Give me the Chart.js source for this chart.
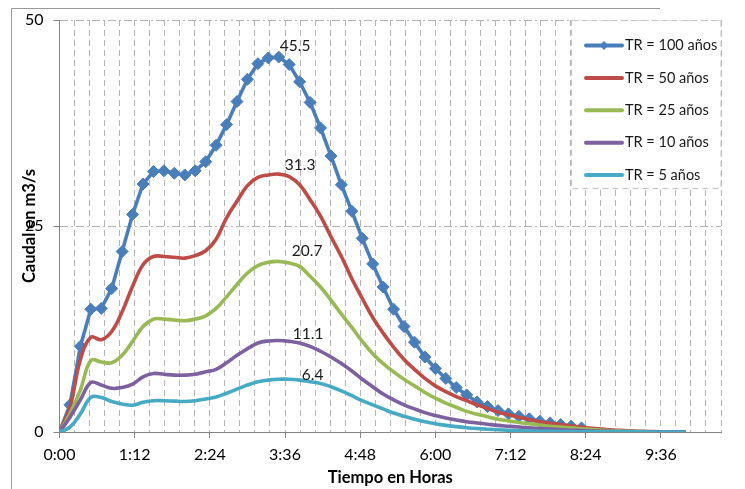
<!DOCTYPE html>
<html><head><meta charset="utf-8">
<script src="https://cdn.jsdelivr.net/npm/chart.js@4.4.0/dist/chart.umd.min.js"></script>
<style>html,body{margin:0;padding:0;background:#fff}#wrap{width:745px;height:489px;position:relative}</style>
</head><body><div id="wrap"><canvas id="c" width="745" height="489"></canvas></div>
<script>
// Time in minutes (10-minute steps)
const timeMinutes = [0,10,20,30,40,50,60,70,80,90,100,110,120,130,140,150,160,170,180,190,200,210,220,230,240,250,260,270,280,290,300,310,320,330,340,350,360,370,380,390,400,410,420,430,440,450,460,470,480,490,500,510,520,530,540,550,560,570,580,590,600];
const seriesNames = ['TR = 100 años','TR = 50 años','TR = 25 años','TR = 10 años','TR = 5 años'];
const tr100 = [0,3.3,10.4,14.9,15.0,17.4,21.9,26.4,30.1,31.6,31.7,31.4,31.2,31.7,32.8,34.8,37.3,40.1,42.8,44.7,45.4,45.5,44.6,42.5,40.0,36.9,33.5,30.0,26.8,23.5,20.4,17.6,14.9,12.8,10.9,9.1,7.7,6.5,5.4,4.5,3.65,3.1,2.6,2.2,1.9,1.6,1.3,1.1,0.9,0.7,0.5];
const tr50 = [0,3.0,8.8,11.5,11.2,12.2,14.6,17.7,20.3,21.3,21.3,21.2,21.1,21.4,22.0,23.4,26.0,28.0,29.9,30.9,31.2,31.3,31.0,30.0,28.2,26.2,23.7,21.3,18.6,16.2,13.9,12.0,10.3,8.8,7.6,6.5,5.6,4.9,4.3,3.8,3.3,2.85,2.4,2.1,1.8,1.5,1.25,1.05,0.9,0.75,0.6,0.45,0.35,0.25,0.18,0.12,0.08,0.05,0.03,0.02,0.01];
const tr25 = [0,2.2,5.1,8.7,8.5,8.4,9.3,11.0,12.8,13.7,13.7,13.6,13.5,13.7,14.1,15.0,16.4,17.9,19.3,20.2,20.6,20.7,20.5,20.1,18.9,17.6,16.0,14.3,12.7,11.0,9.5,8.3,7.3,6.4,5.6,4.8,4.1,3.5,3.0,2.5,2.15,1.85,1.55,1.35,1.15,1.0,0.85,0.7,0.6,0.5,0.4,0.3,0.22,0.16,0.11,0.07,0.05,0.03,0.02,0.01,0.01];
const tr10 = [0,1.8,3.9,6.0,5.7,5.3,5.4,5.8,6.7,7.1,7.0,6.9,6.9,7.0,7.3,7.6,8.4,9.3,10.1,10.8,11.05,11.1,11.0,10.8,10.4,9.8,9.1,8.3,7.4,6.4,5.5,4.6,3.9,3.3,2.8,2.35,2.0,1.7,1.45,1.25,1.1,0.95,0.8,0.7,0.6,0.5,0.42,0.35,0.28,0.22,0.17,0.13,0.1,0.07,0.05,0.04,0.03,0.02,0.02,0.01,0.01];
const tr5 = [0,0.6,2.2,4.2,4.2,3.7,3.4,3.25,3.6,3.8,3.8,3.75,3.7,3.8,4.0,4.25,4.7,5.2,5.7,6.1,6.3,6.4,6.4,6.3,6.1,5.9,5.5,5.0,4.4,3.8,3.3,2.8,2.3,1.9,1.55,1.25,1.0,0.8,0.65,0.52,0.42,0.34,0.27,0.21,0.16,0.12,0.09,0.07,0.05,0.04,0.03,0.02,0.02,0.01,0.01,0.01,0.01,0,0,0,0];
const xTickLabels = ['0:00','1:12','2:24','3:36','4:48','6:00','7:12','8:24','9:36'];
const yTickValues = [0,25,50];

// styles
const colors = ['#4a7ebb','#be4b48','#98b954','#7d60a0','#46aac5'];
const labelOffsets = [[1,-11],[6,-9],[13,-10],[14,-7],[23,-4]];
const FONT = "Lato, 'Open Sans', sans-serif";
const GRID = '#b4b4b4';
const AXIS = '#868686';

const toPts = vals => vals.map((v,i)=>({x: timeMinutes[i], y: v}));
const allSeries = [tr100, tr50, tr25, tr10, tr5];

const datasets = allSeries.map((vals, i) => ({
  label: seriesNames[i],
  data: toPts(vals),
  borderColor: colors[i],
  backgroundColor: colors[i],
  borderWidth: 3.6,
  pointRadius: i === 0 ? 6 : 0,
  pointStyle: 'rectRot',
  pointBorderWidth: 1,
  pointBorderColor: colors[i],
  pointBackgroundColor: colors[i],
  tension: i === 0 ? 0 : 0.4,
  order: 5 - i
}));

const frame = {
  id: 'frame',
  beforeDraw(chart) {
    const ctx = chart.ctx;
    ctx.save();
    ctx.strokeStyle = '#9a9a9a';
    ctx.lineWidth = 1;
    ctx.beginPath();
    ctx.moveTo(11.5, 489); ctx.lineTo(11.5, 8.5); ctx.lineTo(660, 8.5);
    ctx.stroke();
    ctx.restore();
  }
};

const peakLabels = {
  id: 'peakLabels',
  afterDatasetsDraw(chart) {
    const ctx = chart.ctx;
    ctx.save();
    ctx.font = '15.5px ' + FONT;
    ctx.fillStyle = '#1a1a1a';
    ctx.textAlign = 'left';
    ctx.textBaseline = 'middle';
    chart.data.datasets.forEach((ds, i) => {
      const meta = chart.getDatasetMeta(i);
      let best = 0;
      ds.data.forEach((p, j) => { if (p.y > ds.data[best].y) best = j; });
      const el = meta.data[best];
      ctx.fillText(ds.data[best].y.toFixed(1), el.x + labelOffsets[i][0], el.y + labelOffsets[i][1]);
    });
    ctx.restore();
  }
};

const boxLegend = {
  id: 'boxLegend',
  afterDraw(chart) {
    const ctx = chart.ctx;
    const a = chart.chartArea;
    const left = 571.5, top = a.top + 0.5, right = a.right, bottom = 188.5;
    ctx.save();
    ctx.fillStyle = '#fff';
    ctx.fillRect(left, top, right - left, bottom - top);
    ctx.strokeStyle = '#c4c4c4';
    ctx.setLineDash([6,4]);
    ctx.lineWidth = 1;
    ctx.strokeRect(left, top, right - left, bottom - top);
    ctx.setLineDash([]);
    chart.data.datasets.forEach((ds, i) => {
      const y = 45.5 + i * 32.4;
      ctx.strokeStyle = ds.borderColor;
      ctx.lineWidth = 4;
      ctx.lineCap = 'round';
      ctx.beginPath(); ctx.moveTo(586, y); ctx.lineTo(622, y); ctx.stroke();
      if (i === 0) {
        ctx.fillStyle = ds.borderColor;
        ctx.beginPath();
        ctx.moveTo(604, y - 4.5); ctx.lineTo(608.5, y); ctx.lineTo(604, y + 4.5); ctx.lineTo(599.5, y);
        ctx.closePath(); ctx.fill();
      }
      ctx.fillStyle = '#1a1a1a';
      ctx.font = '14.5px ' + FONT;
      ctx.textAlign = 'left';
      ctx.textBaseline = 'middle';
      ctx.fillText(ds.label, 625, y);
    });
    ctx.restore();
  }
};

new Chart(document.getElementById('c'), {
  type: 'line',
  data: { datasets },
  plugins: [frame, peakLabels, boxLegend],
  options: {
    responsive: false,
    animation: false,
    devicePixelRatio: 1,
    layout: { padding: { left: 13, top: 20, right: 24, bottom: 0 } },
    plugins: { legend: { display: false }, tooltip: { enabled: false } },
    scales: {
      x: {
        type: 'linear', min: 0, max: 633.6,
        afterFit: s => { s.height = 57; },
        ticks: {
          stepSize: 14.4, autoSkip: false, maxRotation: 0, minRotation: 0,
          padding: 7, color: '#000', font: { family: FONT, size: 16 },
          callback: v => { const k = Math.round(v / 14.4); return (k % 5 === 0 && xTickLabels[k / 5]) ? xTickLabels[k / 5] : ''; }
        },
        grid: {
          color: c => (c.tick && Math.round(c.tick.value / 14.4) === 0) ? 'rgba(0,0,0,0)' : GRID,
          lineWidth: 1, tickLength: 6,
          tickColor: c => (c.tick && Math.round(c.tick.value / 14.4) % 5 === 0) ? AXIS : 'rgba(0,0,0,0)'
        },
        border: { color: AXIS, width: 1, dash: [6,4] },
        title: { display: true, text: 'Tiempo en Horas', color: '#000', font: { family: FONT, size: 16.5, weight: 'bold' }, padding: { top: 0, bottom: 1 } }
      },
      y: {
        min: 0, max: 50,
        afterFit: s => { s.width = 46.5; },
        afterBuildTicks: s => { s.ticks = yTickValues.map(v => ({ value: v })); },
        ticks: { stepSize: 25, padding: 10, color: '#000', font: { family: FONT, size: 16 } },
        grid: {
          color: c => (c.tick && c.tick.value === 0) ? 'rgba(0,0,0,0)' : GRID,
          lineWidth: 1, tickLength: 6, tickColor: AXIS
        },
        border: { color: AXIS, width: 1, dash: [8,3,2,3] },
        title: { display: true, text: 'Caudal en m3/s', color: '#000', font: { family: FONT, size: 16.5, weight: 'bold' }, padding: { top: 7, bottom: 0 } }
      }
    }
  }
});
</script>
</body></html>
